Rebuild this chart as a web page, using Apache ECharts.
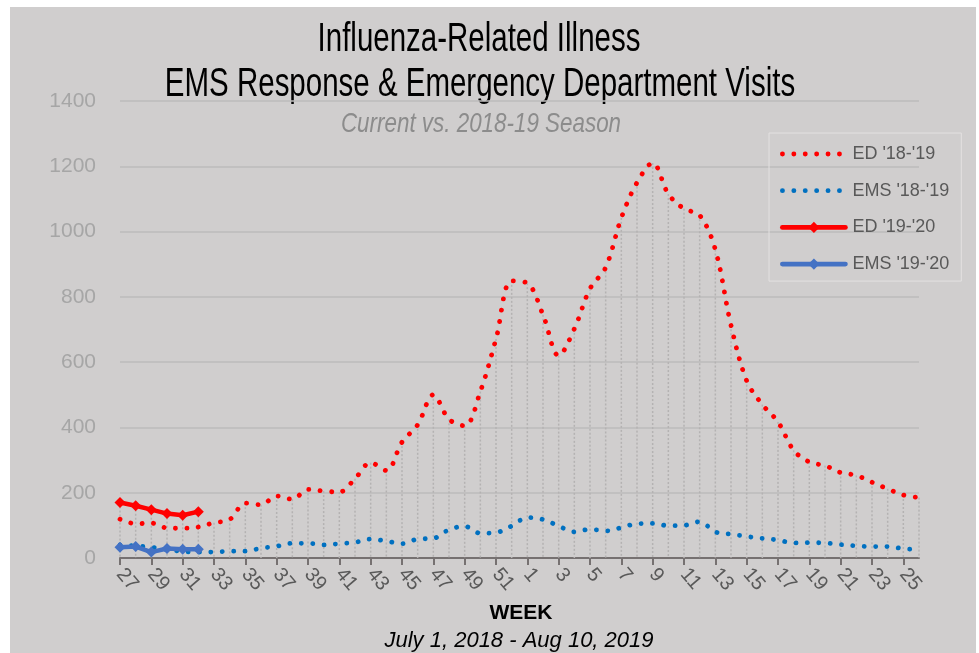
<!DOCTYPE html>
<html>
<head>
<meta charset="utf-8">
<script src="https://cdn.jsdelivr.net/npm/echarts@6/dist/echarts.min.js"></script>
<style>
  html, body { margin: 0; padding: 0; background: #ffffff; }
  #bg { position: absolute; left: 10px; top: 7px; width: 966px; height: 646px; background: #D0CECE; }
  #chart { position: absolute; left: 0; top: 0; width: 979px; height: 653px; }
</style>
</head>
<body>
<div id="bg"></div>
<div id="chart"></div>
<script>
// ---- data ----
const weeks = ['27','28','29','30','31','32','33','34','35','36','37','38','39','40','41','42','43','44','45','46','47','48','49','50','51','52',
               '1','2','3','4','5','6','7','8','9','10','11','12','13','14','15','16','17','18','19','20','21','22','23','24','25','26'];
const ed1819 = [119,105,107,92,91,95,108,118,168,163,190,180,210,205,202,243,292,268,355,408,500,425,405,510,671,849,
                842,745,620,702,825,890,1042,1150,1210,1115,1070,1050,945,713,543,470,417,330,294,283,262,253,232,212,193,185];
const ems1819 = [40,37,33,26,20,18,18,21,21,30,36,45,45,40,44,48,58,52,44,58,60,87,97,76,78,98,
                 124,118,98,80,88,83,93,105,106,99,100,111,80,73,66,60,55,46,47,46,41,37,35,35,29,25];
const ed1920 = [170,160,148,136,131,142];
const ems1920 = [33,35,18,29,27,27];
const seriesNames = ["ED '18-'19", "EMS '18-'19", "ED '19-'20", "EMS '19-'20"];
const yTicks = { min: 0, max: 1400, interval: 200 };

// drop-line heights: max of all series at each week
const dropData = weeks.map((w, i) => {
  const vals = [ed1819[i], ems1819[i], ed1920[i], ems1920[i]].filter(v => v != null);
  return [i, Math.max.apply(null, vals)];
});

const chart = echarts.init(document.getElementById('chart'), null, { renderer: 'canvas' });
const dotStyle = (c) => ({ color: c, width: 4.8, type: [0.1, 11.3], cap: 'round' });
const titleFont = '"Liberation Sans", sans-serif';

chart.setOption({
  backgroundColor: 'transparent',
  animation: false,
  grid: { left: 120, right: 60, top: 101, bottom: 95, containLabel: false },
  xAxis: {
    type: 'category',
    data: weeks,
    boundaryGap: false,
    axisLine: { lineStyle: { color: '#767171', width: 2 } },
    axisTick: { show: true, interval: 1, length: 7, lineStyle: { color: '#767171', width: 2 } },
    axisLabel: { interval: 1, rotate: -50, color: '#595959', fontSize: 20, fontFamily: 'Liberation Sans', margin: 13 },
    splitLine: { show: false }
  },
  yAxis: {
    type: 'value',
    min: yTicks.min, max: yTicks.max, interval: yTicks.interval,
    axisLine: { show: false },
    axisTick: { show: false },
    axisLabel: { color: '#A6A6A6', fontSize: 21, fontFamily: 'Liberation Sans', margin: 24,
                 formatter: function (v) { return String(v); } },
    splitLine: { lineStyle: { color: '#BDBBBB', width: 1.5 } }
  },
  legend: {
    orient: 'vertical',
    left: 769, top: 133,
    padding: [12, 12, 8, 11],
    itemWidth: 63, itemHeight: 14, itemGap: 18.7,
    borderColor: '#E3E1E1', borderWidth: 1,
    textStyle: { color: '#595959', fontSize: 18, fontFamily: 'Liberation Sans', padding: [0, 0, 0, 2] },
    lineStyle: { width: 4.8 },
    data: [
      { name: seriesNames[0], itemStyle: { color: 'rgba(0,0,0,0)', borderWidth: 0 } },
      { name: seriesNames[1], itemStyle: { color: 'rgba(0,0,0,0)', borderWidth: 0 } },
      { name: seriesNames[2] },
      { name: seriesNames[3] }
    ]
  },
  graphic: [
    { type: 'text', x: 479, y: 40, scaleX: 0.737, silent: true,
      style: { text: 'Influenza-Related Illness', align: 'center', verticalAlign: 'middle',
               fontSize: 40, fontFamily: titleFont, fill: '#000000' } },
    { type: 'text', x: 480, y: 85, scaleX: 0.737, silent: true,
      style: { text: 'EMS Response & Emergency Department Visits', align: 'center', verticalAlign: 'middle',
               fontSize: 40, fontFamily: titleFont, fill: '#000000' } },
    { type: 'text', x: 481, y: 124, scaleX: 0.8, silent: true,
      style: { text: 'Current vs. 2018-19 Season', align: 'center', verticalAlign: 'middle',
               fontSize: 28, fontStyle: 'italic', fontFamily: titleFont, fill: '#8C8C8C' } },
    { type: 'text', x: 521, y: 613, silent: true,
      style: { text: 'WEEK', align: 'center', verticalAlign: 'middle',
               fontSize: 21, fontWeight: 'bold', fontFamily: 'Liberation Sans', fill: '#000000' } },
    { type: 'text', x: 519, y: 641, silent: true,
      style: { text: 'July 1, 2018 - Aug 10, 2019', align: 'center', verticalAlign: 'middle',
               fontSize: 22, fontStyle: 'italic', fontFamily: 'Liberation Sans', fill: '#000000' } }
  ],
  series: [
    {
      type: 'custom',
      name: 'drop',
      z: 1,
      silent: true,
      data: dropData,
      encode: { x: 0, y: 1 },
      renderItem: function (params, api) {
        const top = api.coord([api.value(0), api.value(1)]);
        const bot = api.coord([api.value(0), 0]);
        return { type: 'line', shape: { x1: top[0], y1: top[1], x2: bot[0], y2: bot[1] },
                 style: { stroke: '#B4B2B2', lineWidth: 1.5, lineDash: [2, 2] } };
      }
    },
    { name: seriesNames[0], type: 'line', data: ed1819, smooth: 0.35, symbol: 'none', z: 3,
      lineStyle: dotStyle('#FF0000'), itemStyle: { color: '#FF0000' } },
    { name: seriesNames[1], type: 'line', data: ems1819, smooth: 0.35, symbol: 'none', z: 3,
      lineStyle: dotStyle('#0070C0'), itemStyle: { color: '#0070C0' } },
    { name: seriesNames[2], type: 'line', data: ed1920, symbol: 'diamond', symbolSize: 11, showAllSymbol: true, z: 4,
      lineStyle: { color: '#FF0000', width: 4.5, cap: 'round' }, itemStyle: { color: '#FF0000' } },
    { name: seriesNames[3], type: 'line', data: ems1920, symbol: 'diamond', symbolSize: 11, showAllSymbol: true, z: 4,
      lineStyle: { color: '#4472C4', width: 4.5, cap: 'round' }, itemStyle: { color: '#4472C4' } }
  ]
});
</script>
</body>
</html>
